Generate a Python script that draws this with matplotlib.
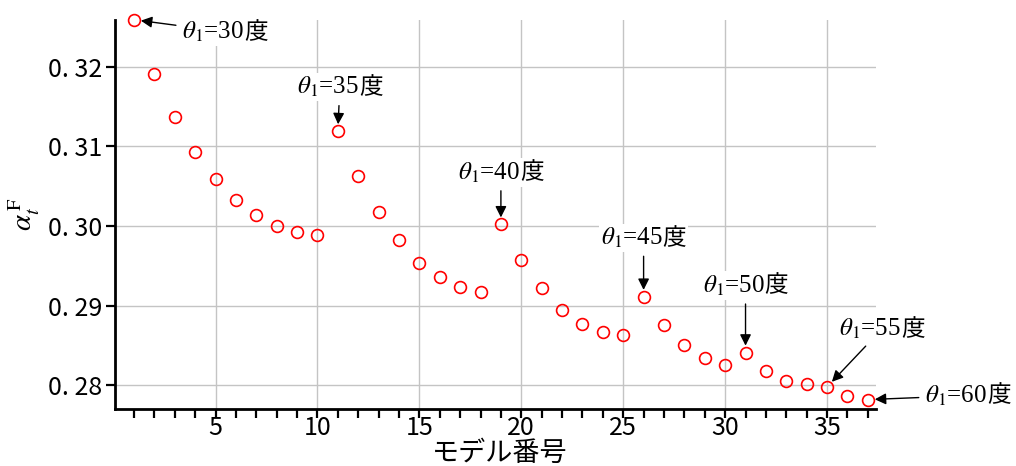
import numpy as np
import matplotlib
matplotlib.use("Agg")
import matplotlib.pyplot as plt
from matplotlib.ticker import MultipleLocator, FuncFormatter
from matplotlib.offsetbox import TextArea, HPacker, AnnotationBbox

plt.rcParams['font.family'] = ['Noto Sans CJK JP', 'DejaVu Sans']
plt.rcParams['mathtext.fontset'] = 'stix'

# model numbers and alpha_t^F values
model_no = np.arange(1, 38)
alpha_f = [0.3259, 0.3191, 0.3137, 0.3093, 0.3059, 0.3033, 0.3014, 0.3000, 0.2992, 0.2989,
           0.3119, 0.3063, 0.3017, 0.2982, 0.2954, 0.2936, 0.2923, 0.2917, 0.3002, 0.2957,
           0.2922, 0.2895, 0.2877, 0.2867, 0.2863, 0.2911, 0.2876, 0.2850, 0.2834, 0.2826,
           0.2841, 0.2818, 0.2805, 0.2801, 0.2798, 0.2787, 0.2782]

# annotated models (theta_1 start of each group)
ann_models = [1, 11, 19, 26, 31, 35, 37]
ann_angles = [30, 35, 40, 45, 50, 55, 60]
# text offsets in pixels relative to the point
ann_offsets = [(91, -12), (2, 44), (0, 52), (0, 59), (0, 67), (55, 58), (100, 4)]

tick_font = dict(family=['Noto Sans CJK JP', 'DejaVu Sans'], size=18)

fig = plt.figure(figsize=(10.16, 4.66), dpi=100)
ax = fig.add_axes([115/1016, 1 - 409/466, (876 - 115)/1016, (409 - 19.5)/466])

ax.plot(model_no, alpha_f, linestyle='none', marker='o', markersize=8.5,
        markerfacecolor='none', markeredgecolor='red', markeredgewidth=1.2,
        clip_on=False, zorder=3)

ax.set_xlim(0.07, 37.4)
ax.set_ylim(0.27702, 0.32593)

ax.xaxis.set_major_locator(MultipleLocator(5))
ax.xaxis.set_minor_locator(MultipleLocator(1))
ax.set_yticks([0.28, 0.29, 0.30, 0.31, 0.32])
ax.yaxis.set_major_formatter(FuncFormatter(lambda v, p: f"{v:.2f}".replace('.', '. ')))

ax.grid(True, which='major', color='#c4c4c4', linewidth=1.0)
ax.set_axisbelow(True)

for s in ['top', 'right']:
    ax.spines[s].set_visible(False)
for s in ['left', 'bottom']:
    ax.spines[s].set_linewidth(2.0)

ax.tick_params(axis='both', which='both', direction='out', length=6.5, width=1.6, pad=3)
ax.tick_params(axis='x', which='both', pad=-2)
for lab in ax.get_xticklabels() + ax.get_yticklabels():
    lab.set_fontproperties(tick_font)

ax.set_xlabel('モデル番号', fontsize=19.5)
ax.xaxis.set_label_coords(0.505, -0.08)
ax.set_ylabel(r'$\alpha_t^{\,\mathrm{F}}$', fontsize=21, labelpad=4)

for m, ang, off in zip(ann_models, ann_angles, ann_offsets):
    part1 = TextArea(r'$\theta_1$=' + f'{ang}',
                     textprops=dict(family='Liberation Serif', size=18))
    part2 = TextArea('度', textprops=dict(family='Noto Sans CJK JP', size=17))
    box = HPacker(children=[part1, part2], align='baseline', pad=0, sep=0)
    ab = AnnotationBbox(box, (m, alpha_f[m - 1]), xybox=off,
                        xycoords='data', boxcoords='offset pixels',
                        frameon=True, pad=0.15,
                        bboxprops=dict(fc='white', ec='none'),
                        arrowprops=dict(arrowstyle='-|>', color='black', lw=1.0,
                                        shrinkA=3, shrinkB=5, mutation_scale=12),
                        annotation_clip=False, zorder=4)
    ax.add_artist(ab)

fig.savefig('out.png', dpi=100)
